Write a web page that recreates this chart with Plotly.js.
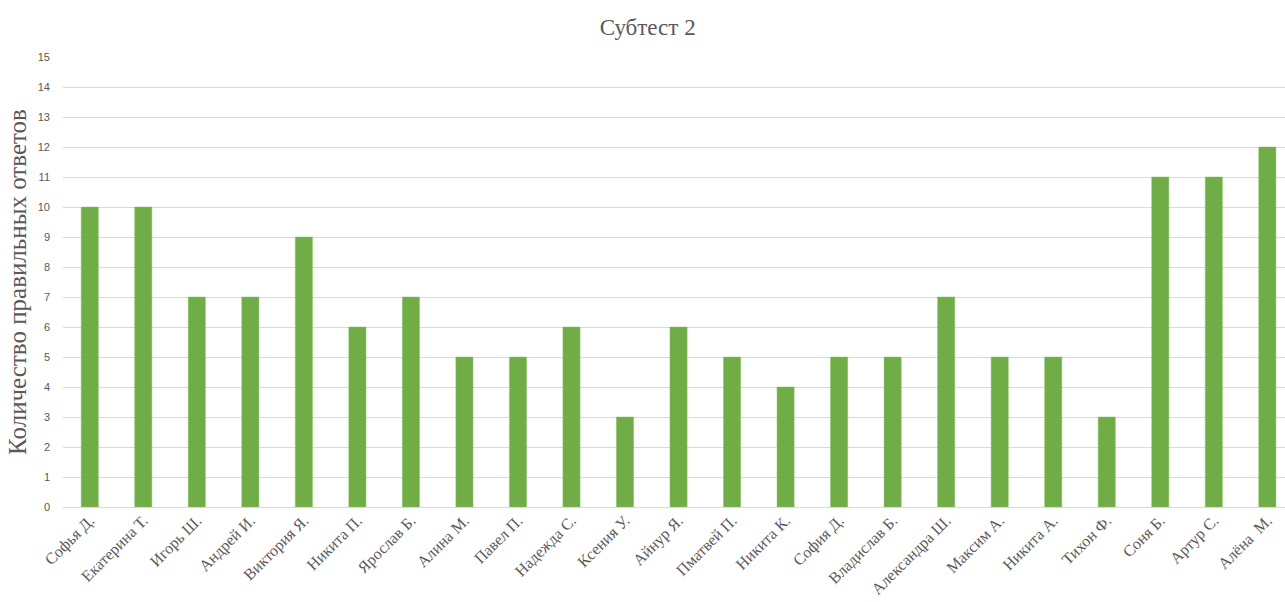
<!DOCTYPE html>
<html>
<head>
<meta charset="utf-8">
<script src="https://cdn.plot.ly/plotly-3.0.1.min.js"></script>
<style>html,body{margin:0;padding:0;background:#fff;overflow:hidden;}</style>
</head>
<body>
<div id="chart" style="width:1285px;height:602px;"></div>
<script>
const names = ["Софья Д.", "Екатерина Т.", "Игорь Ш.", "Андрей И.", "Виктория Я.", "Никита П.", "Ярослав Б.", "Алина М.", "Павел П.", "Надежда С.", "Ксения У.", "Айнур Я.", "Пматвей П.", "Никита К.", "София Д.", "Владислав Б.", "Александра Ш.", "Максим А.", "Никита А.", "Тихон Ф.", "Соня Б.", "Артур С.", "Алёна  М."];
const scores = [10, 10, 7, 7, 9, 6, 7, 5, 5, 6, 3, 6, 5, 4, 5, 5, 7, 5, 5, 3, 11, 11, 12];
const yTicks = [0, 1, 2, 3, 4, 5, 6, 7, 8, 9, 10, 11, 12, 13, 14, 15];

const trace = {
  type: 'bar',
  x: names,
  y: scores,
  marker: {color: '#70ad47', line: {color: '#86c060', width: 0.5}},
  hoverinfo: 'x+y'
};

const layout = {
  width: 1285,
  height: 602,
  margin: {l: 63, r: 0, t: 57, b: 95},
  paper_bgcolor: '#ffffff',
  plot_bgcolor: '#ffffff',
  bargap: 0.68,
  showlegend: false,
  title: {
    text: 'Субтест 2',
    x: 0.504, xanchor: 'center',
    y: 0.955, yanchor: 'middle',
    font: {family: 'Liberation Serif, Times New Roman, serif', size: 23, color: '#595959'}
  },
  xaxis: {
    type: 'category',
    range: [-0.5, 22.33],
    tickangle: -45,
    tickfont: {family: 'Liberation Serif, Times New Roman, serif', size: 16, color: '#595959'},
    showgrid: false,
    zeroline: false,
    showline: false,
    ticks: '',
    automargin: false
  },
  yaxis: {
    range: [0, 15],
    tickvals: yTicks,
    ticktext: yTicks.map(String),
    tickfont: {family: 'Liberation Sans, Arial, sans-serif', size: 11, color: '#595959'},
    gridcolor: '#d9d9d9',
    gridwidth: 1,
    zeroline: true,
    zerolinecolor: '#d9d9d9',
    zerolinewidth: 1,
    showline: false,
    ticks: '',
    ticklabelstandoff: 12,
    automargin: false,
    title: {
      text: 'Количество правильных ответов',
      font: {family: 'Liberation Serif, Times New Roman, serif', size: 25, color: '#595959'},
      standoff: 4
    }
  }
};

Plotly.newPlot('chart', [trace], layout, {displayModeBar: false, staticPlot: true});
</script>
</body>
</html>
